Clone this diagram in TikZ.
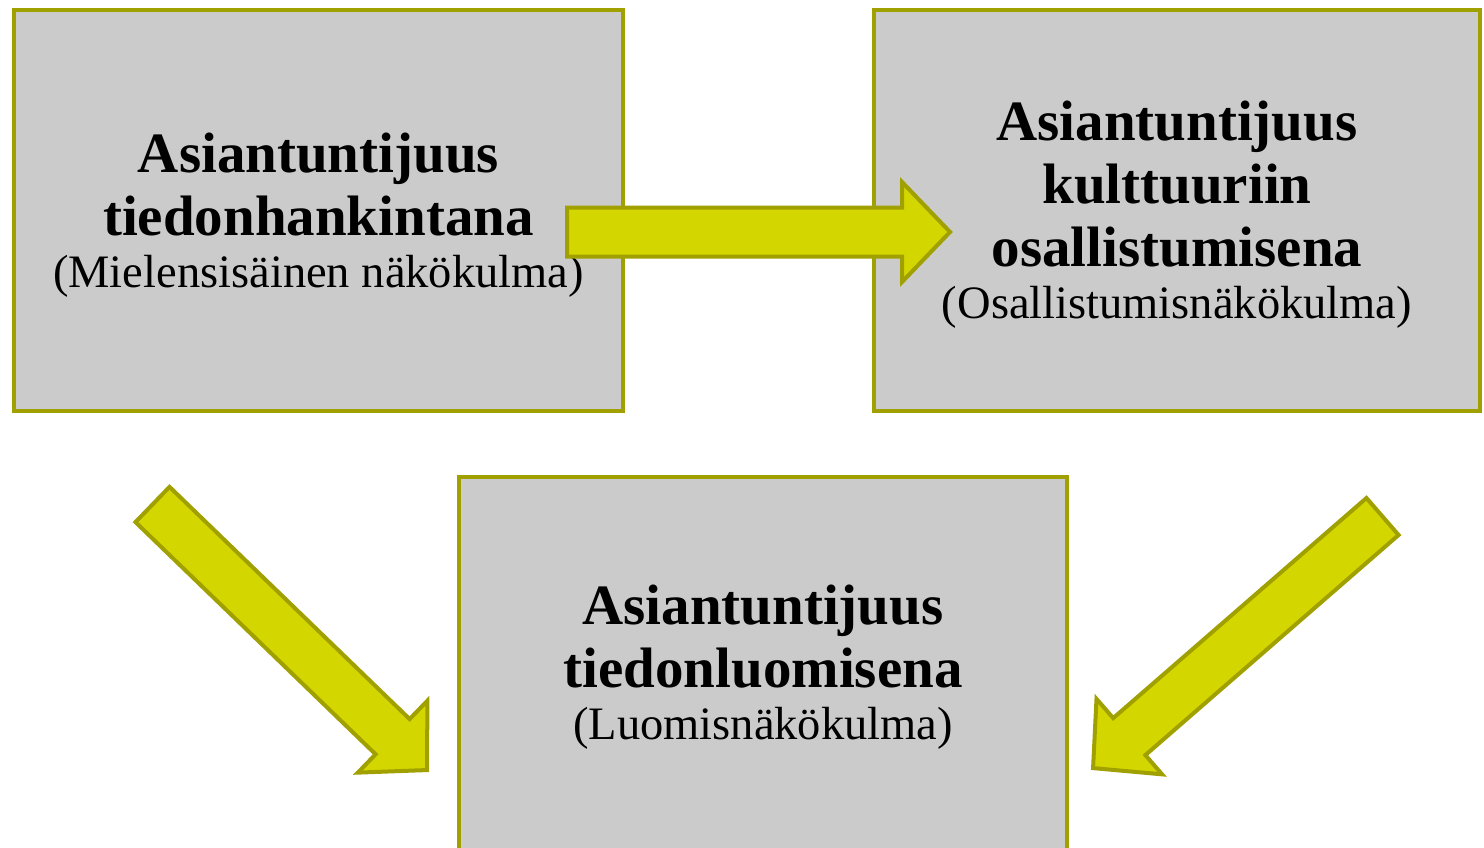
\documentclass[tikz,border=0pt]{standalone}
\usepackage{fontspec}
\setmainfont{Liberation Serif}
\definecolor{boxfill}{HTML}{CBCBCB}
\definecolor{olive}{HTML}{A0A000}
\definecolor{arrfill}{HTML}{D4D600}
\newcommand{\titlefont}{\fontsize{57}{63}\selectfont\bfseries}
\newcommand{\subfont}{\fontsize{46.5}{63}\selectfont\mdseries}
\tikzset{
  box/.style={draw=olive, line width=4pt, fill=boxfill, inner sep=0pt},
  boxtext/.style={align=center, inner sep=0pt, font=\titlefont},
  blockarr/.style={draw=olive, line width=4pt, fill=arrfill, line join=miter},
}
\newcommand{\myblockarrow}[3]{%
  \draw[blockarr, shift={(#1)}, rotate=#2]
    (0,24.5) -- (#3-48,24.5) -- (#3-48,50) -- (#3,0) -- (#3-48,-50)
    -- (#3-48,-24.5) -- (0,-24.5) -- cycle;}
\begin{document}
\begin{tikzpicture}[x=1pt,y=-1pt]
\useasboundingbox (0,0) rectangle (1484,848);
\begin{scope}
\clip (0,0) rectangle (1484,848);
\node[box, minimum width=609pt, minimum height=401pt] (a) at (318.5,210.5) {};
\node[box, minimum width=606pt, minimum height=401pt] (b) at (1177,210.5) {};
\node[box, minimum width=608pt, minimum height=423pt] (c) at (763,688.5) {};
\node[boxtext] (at) at (318.5,215) {Asiantuntijuus\\ tiedonhankintana\\[-11pt] {\subfont (Mielensisäinen näkökulma)}};
\node[boxtext] (bt) at (1177,215) {Asiantuntijuus\\ kulttuuriin\\ osallistumisena\\[-11pt] {\subfont (Osallistumisnäkökulma)}};
\node[boxtext] (ct) at (763,667) {Asiantuntijuus\\ tiedonluomisena\\[-11pt] {\subfont (Luomisnäkökulma)}};
\coordinate (t1) at (567,232);
\coordinate (t2) at (152.5,504.5);
\coordinate (t3) at (1382.5,516.5);
\myblockarrow{t1}{0}{383}
\myblockarrow{t2}{-44.04}{382}
\myblockarrow{t3}{-139}{383.5}
\end{scope}
\end{tikzpicture}
\end{document}
